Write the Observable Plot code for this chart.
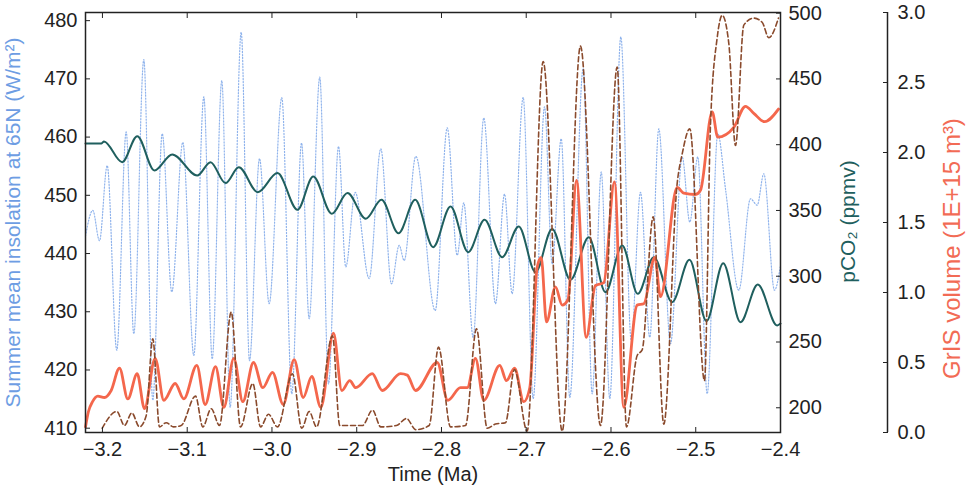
<!DOCTYPE html>
<html>
<head>
<meta charset="utf-8">
<script src="https://cdn.jsdelivr.net/npm/d3@7"></script>
<script src="https://cdn.jsdelivr.net/npm/@observablehq/plot@0.6"></script>
<style>
  body { margin: 0; background: #fff; }
  #chart svg { display: block; }
</style>
</head>
<body>
<div id="chart"></div>
<script>
// ---------------- data ----------------
// Summer mean insolation at 65N (W/m^2)
const insolTime = [-3.220,-3.2114,-3.2035,-3.1944,-3.1831,-3.1720,-3.1630,-3.1512,-3.1406,-3.1295,-3.1182,-3.1052,-3.0922,-3.0804,-3.0705,-3.0592,-3.0493,-3.0363,-3.0265,-3.0147,-3.0033,-2.9884,-2.9766,-2.9651,-2.9561,-2.9436,-2.9333,-2.9215,-2.9129,-2.9018,-2.8853,-2.8716,-2.8590,-2.8499,-2.8440,-2.8303,-2.8074,-2.7932,-2.7814,-2.7737,-2.7626,-2.7501,-2.7363,-2.7256,-2.7166,-2.7036,-2.6918,-2.6784,-2.6694,-2.6587,-2.6486,-2.6328,-2.6222,-2.6115,-2.6014,-2.5884,-2.5761,-2.5652,-2.5542,-2.5436,-2.5298,-2.5160,-2.5070,-2.4976,-2.4865,-2.4740,-2.4649,-2.4492,-2.4354,-2.4275,-2.4197,-2.4071,-2.400];
const insolValue = [443,447.4,442.2,455.1,423.4,460.9,426.2,473.3,414.8,460.6,433.4,459.1,422.5,466.9,421.9,469.7,413.6,478.0,421.6,456.3,431.4,466.8,415.9,459.0,428.8,470.3,417.6,458.4,437.7,450.5,435.7,458.0,434.8,441.4,438.8,456.7,430.2,461.6,439.7,448.7,425.6,463.3,431.4,450.2,433.1,466.8,415.1,465.2,438.2,459.7,415.3,471.8,415.9,454.0,415.1,477.2,425.1,450.5,425.6,461.4,424.5,456.6,445.4,456.6,415.9,460.6,451.1,433.7,449.4,448.3,453.7,433.7,438];

// pCO2 (ppmv)
const co2Time = [-3.220,-3.2011,-3.1982,-3.1767,-3.1590,-3.1386,-3.1177,-3.0882,-3.0725,-3.0548,-3.0391,-3.0167,-2.9935,-2.9699,-2.9513,-2.9294,-2.9109,-2.8893,-2.8708,-2.8507,-2.8310,-2.8098,-2.7893,-2.7685,-2.7492,-2.7284,-2.7088,-2.6891,-2.6694,-2.6478,-2.6262,-2.6065,-2.5868,-2.5684,-2.5495,-2.5278,-2.5074,-2.4873,-2.4676,-2.4472,-2.4268,-2.4039,-2.400];
const co2Value = [401,401,402.5,386.7,406.5,380.4,392.6,376.6,386.7,370.8,382.9,363.9,378.4,350.5,375.9,347.5,363.2,343.7,358.1,332.7,358.1,322.1,353,318.3,342.9,314.5,337.8,303.1,336,297.3,329.7,287.9,323.4,286.7,314.5,280.3,312.5,265.9,309.9,265.1,293.7,262.6,264];

// GrIS volume (1E+15 m^3), solid red
const grisTime = [-3.220,-3.2165,-3.2117,-3.2055,-3.1976,-3.1897,-3.1799,-3.1701,-3.1590,-3.1504,-3.1378,-3.1276,-3.1142,-3.1040,-3.0887,-3.0788,-3.0666,-3.0568,-3.0450,-3.0344,-3.0218,-3.0108,-2.9994,-2.9867,-2.9738,-2.9631,-2.9530,-2.9424,-2.9274,-2.9176,-2.9082,-2.9011,-2.8817,-2.8699,-2.8483,-2.8404,-2.8306,-2.8050,-2.7925,-2.7776,-2.7696,-2.7599,-2.7501,-2.7312,-2.7233,-2.7138,-2.7029,-2.6958,-2.6871,-2.6823,-2.6761,-2.6655,-2.6576,-2.6507,-2.6407,-2.6292,-2.6183,-2.6085,-2.5959,-2.5849,-2.5691,-2.5613,-2.5483,-2.5416,-2.5219,-2.5141,-2.5003,-2.4944,-2.4806,-2.4740,-2.4551,-2.4413,-2.4315,-2.4189,-2.4024];
const grisValue = [0.04,0.15,0.22,0.26,0.25,0.30,0.46,0.24,0.42,0.17,0.53,0.23,0.35,0.24,0.48,0.20,0.47,0.18,0.53,0.22,0.50,0.32,0.43,0.20,0.52,0.25,0.40,0.18,0.71,0.30,0.37,0.32,0.42,0.30,0.42,0.41,0.30,0.50,0.23,0.32,0.32,0.53,0.23,0.48,0.37,0.46,0.22,0.32,1.18,1.25,0.79,1.04,0.91,0.95,1.80,0.68,1.05,1.07,1.79,0.18,0.91,0.92,1.25,0.97,1.75,1.71,1.70,1.73,2.29,2.11,2.18,2.33,2.28,2.22,2.31];

// GrIS volume (1E+15 m^3), dashed brown
const grisAltTime = [-3.2003,-3.1831,-3.1740,-3.1654,-3.1563,-3.1484,-3.1406,-3.1327,-3.1248,-3.1162,-3.1071,-3.0902,-3.0816,-3.0717,-3.0619,-3.0481,-3.0371,-3.0226,-3.0135,-3.0041,-2.9935,-2.9758,-2.9648,-2.9561,-2.9474,-2.9286,-2.9200,-2.8932,-2.8814,-2.8716,-2.8531,-2.8413,-2.8303,-2.8145,-2.8035,-2.7893,-2.7716,-2.7587,-2.7460,-2.7363,-2.7245,-2.7138,-2.6989,-2.6800,-2.6576,-2.6360,-2.6124,-2.5927,-2.5817,-2.5691,-2.5632,-2.5502,-2.5377,-2.5219,-2.5160,-2.5070,-2.4897,-2.4826,-2.4747,-2.4688,-2.4610,-2.4531,-2.4433,-2.4315,-2.4216,-2.4138,-2.4024];
const grisAltValue = [0.03,0.15,0.05,0.14,0.04,0.12,0.67,0.04,0.07,0.04,0.05,0.26,0.04,0.17,0.05,0.86,0.04,0.35,0.04,0.13,0.04,0.42,0.03,0.15,0.04,0.69,0.05,0.05,0.16,0.04,0.05,0.10,0.02,0.05,0.61,0.04,0.05,0.74,0.03,0.06,0.07,0.45,0.01,2.65,0.01,2.76,0.05,2.61,0.04,0.55,0.59,1.54,0.06,1.78,1.99,2.17,0.37,2.20,2.82,2.98,2.78,2.05,2.91,2.96,2.93,2.82,2.96];

// ticks
const xTicks = [-3.2,-3.1,-3.0,-2.9,-2.8,-2.7,-2.6,-2.5,-2.4];
const insolTicks = [410,420,430,440,450,460,470,480];
const co2Ticks = [200,250,300,350,400,450,500];
const grisTicks = [0,0.5,1.0,1.5,2.0,2.5,3.0];

// axis titles
const insolTitle = "Summer mean insolation at 65N (W/m²)";
const co2Title = "pCO₂ (ppmv)";
const grisTitle = "GrIS volume (1E+15 m³)";
const xTitle = "Time (Ma)";

// ---------------- scales ----------------
const xDomain = [-3.22, -2.4];
const insolDomain = [409.26, 481.4];
const co2Domain = [181.2, 500.5];
const grisDomain = [0, 3];
const toY = (v, dom) => insolDomain[0] + (v - dom[0]) / (dom[1] - dom[0]) * (insolDomain[1] - insolDomain[0]);
const fromY = (y, dom) => dom[0] + (y - insolDomain[0]) / (insolDomain[1] - insolDomain[0]) * (dom[1] - dom[0]);

const zip = (t, v, dom) => t.map((d, i) => ({t: d, y: dom ? toY(v[i], dom) : v[i]}));
const insol = zip(insolTime, insolValue);
const co2 = zip(co2Time, co2Value, co2Domain);
const gris = zip(grisTime, grisValue, grisDomain);
const grisAlt = zip(grisAltTime, grisAltValue, grisDomain);

const font = "'Liberation Sans', Arial, Helvetica, sans-serif";
const fs = 20;
const ink = "#222";
const cInsol = "#8fb3ec";
const cCo2 = "#1f5f5e";
const cGris = "#f4674c";
const cAlt = "#8a4a2c";
const fmt1 = d3.format(".1f");

const chart = Plot.plot({
  width: 966,
  height: 490,
  marginTop: 12,
  marginBottom: 58,
  marginLeft: 85,
  marginRight: 186,
  x: {domain: xDomain, axis: null},
  y: {domain: insolDomain, axis: null},
  style: {fontFamily: font, fontSize: fs + "px", background: "#fff", color: ink, overflow: "visible"},
  marks: [
    Plot.line(insol, {x: "t", y: "y", stroke: cInsol, strokeWidth: 1.2, strokeDasharray: "1.2,1.8", curve: "monotone-x"}),
    Plot.line(co2, {x: "t", y: "y", stroke: cCo2, strokeWidth: 2, curve: "monotone-x"}),
    Plot.line(gris, {x: "t", y: "y", stroke: cGris, strokeWidth: 2.8, curve: "monotone-x"}),
    Plot.line(grisAlt, {x: "t", y: "y", stroke: cAlt, strokeWidth: 1.6, strokeDasharray: "5,3", curve: "monotone-x"}),
    Plot.frame({stroke: ink, strokeWidth: 1.5}),
    // bottom x axis
    Plot.axisX(xTicks, {anchor: "bottom", tickSize: -5, tickPadding: 14, tickFormat: fmt1, fontSize: fs, stroke: ink, fill: ink, label: null}),
    // top ticks only
    Plot.axisX(xTicks, {anchor: "top", tickSize: -5, tickFormat: () => "", stroke: ink, label: null}),
    // left insolation axis
    Plot.axisY(insolTicks, {anchor: "left", tickSize: -5, tickPadding: 13, fontSize: fs, stroke: ink, fill: ink, label: null}),
    // right pCO2 axis
    Plot.axisY(co2Ticks.map(v => toY(v, co2Domain)), {anchor: "right", tickSize: -5, tickPadding: 13, fontSize: fs, stroke: ink, fill: ink, label: null,
      tickFormat: d => String(Math.round(fromY(d, co2Domain)))}),
    // far-right GrIS axis
    Plot.ruleX([xDomain[1]], {y1: toY(grisDomain[0], grisDomain), y2: toY(grisDomain[1], grisDomain), dx: 107, stroke: ink, strokeWidth: 1.5}),
    Plot.axisY(grisTicks.map(v => toY(v, grisDomain)), {anchor: "right", dx: 107, tickSize: -5, tickPadding: 15, fontSize: fs, stroke: ink, fill: ink, label: null,
      tickFormat: d => fmt1(Math.round(fromY(d, grisDomain) * 10) / 10 + 0)}),
    // titles
    Plot.text([insolTitle], {frameAnchor: "left", textAnchor: "middle", rotate: -90, dx: -72, dy: 0, fill: "#6e9de3", fontSize: 21}),
    Plot.text([co2Title], {frameAnchor: "right", textAnchor: "middle", rotate: -90, dx: 68, dy: -1, fill: cCo2, fontSize: 21}),
    Plot.text([grisTitle], {frameAnchor: "right", textAnchor: "middle", rotate: -90, dx: 172, dy: 26, fill: "#f26b55", fontSize: 24}),
    Plot.text([xTitle], {frameAnchor: "bottom", dy: 48, fill: ink, fontSize: fs})
  ]
});
document.getElementById("chart").appendChild(chart);
</script>
</body>
</html>
